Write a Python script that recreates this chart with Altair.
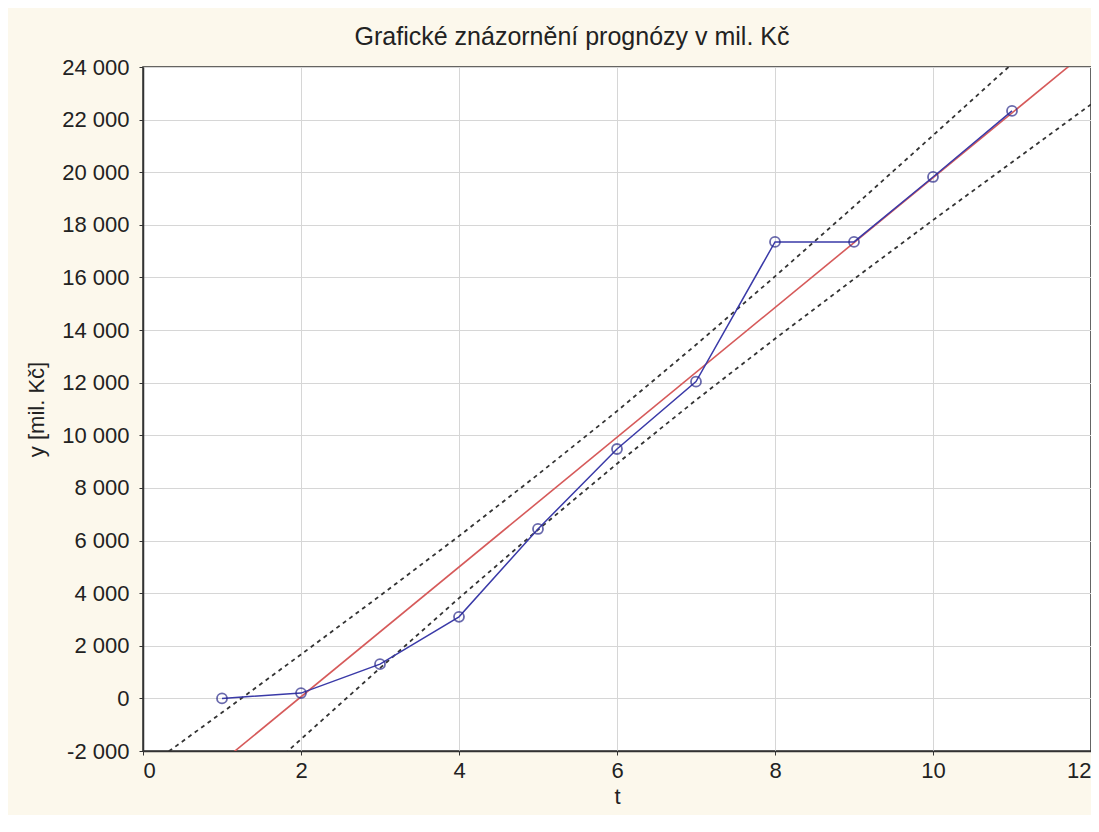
import altair as alt
import pandas as pd

# observed values (t, y)
t_obs = [1, 2, 3, 4, 5, 6, 7, 8, 9, 10, 11]
y_obs = [0, 200, 1300, 3100, 6440, 9480, 12040, 17350, 17350, 19820, 22330]

# regression (trend) line, read at the chart edges
t_fit = [0, 12]
y_fit = [-4870, 24720]

# dashed band lines read at integer t
t_band = [0, 1, 2, 3, 4, 5, 6, 7, 8, 9, 10, 11, 12]
upper = [-2730, -540, 1670, 3900, 6170, 8510, 10920, 13440, 16040, 18700, 21400, 24120, 26860]
lower = [-7020, -4280, -1550, 1150, 3810, 6410, 8920, 11340, 13670, 15940, 18180, 20380, 22580]

x_ticks = [0, 2, 4, 6, 8, 10, 12]
y_ticks = [-2000, 0, 2000, 4000, 6000, 8000, 10000, 12000, 14000, 16000, 18000, 20000, 22000, 24000]

obs = pd.DataFrame({"t": t_obs, "y": y_obs})
fit = pd.DataFrame({"t": t_fit, "y": y_fit})
band = pd.DataFrame({"t": t_band * 2, "y": upper + lower,
                     "b": ["upper"] * len(t_band) + ["lower"] * len(t_band)})

FONT = "Liberation Sans"

xax = alt.Axis(values=x_ticks, title="t", format="d")
yax = alt.Axis(values=y_ticks, title="y [mil. Kč]",
               labelExpr="replace(replace(format(datum.value, ',d'), ',', ' '), '\u2212', '-')")
xs = alt.Scale(domain=[0, 12], nice=False, zero=False)
ys = alt.Scale(domain=[-2000, 24000], nice=False, zero=False)

X = alt.X("t:Q", scale=xs, axis=xax)
Y = alt.Y("y:Q", scale=ys, axis=yax)

band_lines = alt.Chart(band).mark_line(
    clip=True, color="#333333", strokeWidth=1.8, strokeDash=[4, 4]
).encode(x=X, y=Y, detail="b:N")

fit_line = alt.Chart(fit).mark_line(
    clip=True, color="#d65a5a", strokeWidth=1.6
).encode(x=X, y=Y)

obs_line = alt.Chart(obs).mark_line(
    clip=True, color="#3a3aa8", strokeWidth=1.5
).encode(x=X, y=Y)

obs_pts = alt.Chart(obs).mark_point(
    clip=True, shape="circle", filled=False, color="#2a2a8a", size=100, strokeWidth=1.8
).encode(x=X, y=Y)

chart = alt.layer(band_lines, fit_line, obs_line, obs_pts).properties(
    width=948,
    height=684,
    autosize=alt.AutoSizeParams(type="none"),
    padding={"left": 135, "top": 59, "right": 0, "bottom": 64},
    background="#FCF8EC",
    title=alt.Title(
        "Grafické znázornění prognózy v mil. Kč",
        font=FONT, fontSize=25, fontWeight="normal", color="#222222",
        anchor="middle", frame="group", dx=-45, offset=6,
    ),
).configure_view(
    stroke="#333333", strokeWidth=1.5, fill="white"
).configure_axis(
    labelFont=FONT, titleFont=FONT, labelFontSize=22, titleFontSize=22,
    labelColor="#222222", titleColor="#222222", titleFontWeight="normal",
    domainColor="#333333", domainWidth=1.5, tickColor="#333333", tickSize=4,
    gridColor="#d6d6d6", gridWidth=1,
).configure_axisX(
    labelPadding=5, titlePadding=5,
).configure_axisY(
    labelPadding=10, titlePadding=13,
)

chart.save("out.html", embed_options={"renderer": "svg", "actions": False})
